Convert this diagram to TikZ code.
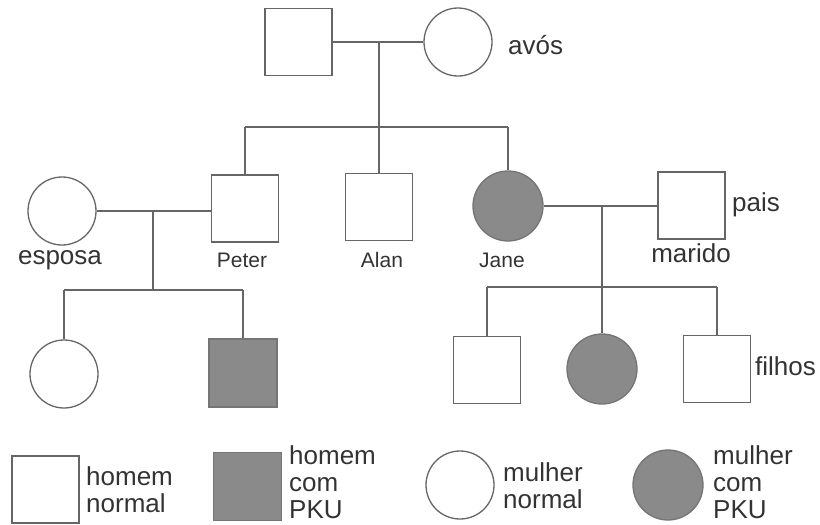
\documentclass[tikz,border=0pt]{standalone}
\usepackage{fontspec}
\setmainfont{Liberation Sans}
\definecolor{ink}{HTML}{333333}
\definecolor{linegray}{HTML}{666666}
\definecolor{pku}{HTML}{8A8A8A}
\begin{document}
\begin{tikzpicture}[x=1pt,y=-1pt,
  link/.style={draw=linegray,line width=1.3pt},
  male/.style={rectangle,draw=linegray,line width=1.3pt,fill=white,minimum size=67pt,inner sep=0pt},
  female/.style={circle,draw=linegray,line width=1.3pt,fill=white,minimum size=68pt,inner sep=0pt},
  affected/.style={fill=pku,draw=pku!85!black},
  lbl/.style={text=ink,inner sep=0pt,font=\fontsize{26}{27}\selectfont,align=left},
  personlbl/.style={text=ink,inner sep=0pt,font=\fontsize{21}{24}\selectfont}]
\useasboundingbox (0,0) rectangle (820,525);

% generation I: grandparents
\node[male] (gpm) at (298.5,42) {};
\node[female] (gpf) at (458,42) {};
\node[lbl,anchor=west] (lavos) at (508,45) {avós};

% generation II
\node[female] (esposa) at (62,211) {};
\node[male] (peter) at (245,208.5) {};
\node[male] (alan) at (379,207) {};
\node[female,affected,minimum size=70pt] (jane) at (508,206) {};
\node[male] (marido) at (691.5,205.5) {};
\node[lbl] (lesposa) at (60,260) {esposa};
\node[personlbl] (lpeter) at (242,260) {Peter};
\node[personlbl] (lalan) at (382,260) {Alan};
\node[personlbl] (ljane) at (502,260) {Jane};
\node[lbl,anchor=west] (lpais) at (732,205) {pais};
\node[lbl] (lmarido) at (691,253) {marido};

% generation III
\node[female] (filha) at (64,374) {};
\node[male,affected,minimum size=68pt] (filho) at (243,373) {};
\node[male] (neto1) at (487,370) {};
\node[female,affected,minimum size=70pt] (neta) at (602,369) {};
\node[male] (neto2) at (717,369) {};
\node[lbl,anchor=west] (lfilhos) at (755,366) {filhos};

% grandparents' mating line and sibship
\coordinate (m1) at (379,42);
\coordinate (s1) at (379,127);
\coordinate (s1l) at (245,127);
\coordinate (s1r) at (508,127);
\draw[link] (gpm) -- (gpf);
\draw[link] (m1) -- (s1);
\draw[link] (s1l) -- (s1r);
\draw[link] (s1l) -- (peter);
\draw[link] (s1r) -- (jane);
\draw[link] (s1) -- (alan);

% Peter and esposa
\coordinate (m2) at (153,210);
\coordinate (s2) at (153,290);
\coordinate (s2l) at (64,290);
\coordinate (s2r) at (243,290);
\draw[link] (esposa) -- (esposa -| peter.west);
\draw[link] (m2) -- (s2);
\draw[link] (s2l) -- (s2r);
\draw[link] (s2l) -- (filha);
\draw[link] (s2r) -- (filho);

% Jane and marido
\coordinate (m3) at (602,205);
\coordinate (s3) at (602,287);
\coordinate (s3l) at (487,287);
\coordinate (s3r) at (717,287);
\draw[link] (jane.east) -- (marido.west |- jane.east);
\draw[link] (m3) -- (s3);
\draw[link] (s3l) -- (s3r);
\draw[link] (s3l) -- (neto1);
\draw[link] (s3) -- (neta);
\draw[link] (s3r) -- (neto2);

% key
\node[male] (k1) at (45.5,489.5) {};
\node[lbl,anchor=west] (k1t) at (86,490) {homem\\normal};
\node[male,affected,minimum size=68pt] (k2) at (247.5,486.5) {};
\node[lbl,anchor=west] (k2t) at (289,482) {homem\\com\\PKU};
\node[female] (k3) at (460,485) {};
\node[lbl,anchor=west] (k3t) at (503,486) {mulher\\normal};
\node[female,affected,minimum size=70pt] (k4) at (668,485) {};
\node[lbl,anchor=west] (k4t) at (713,482) {mulher\\com\\PKU};
\end{tikzpicture}
\end{document}
